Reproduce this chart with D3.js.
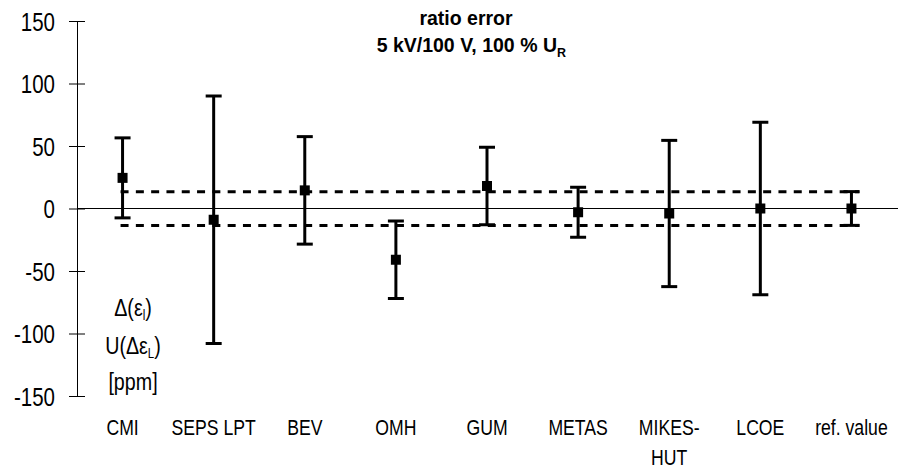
<!DOCTYPE html>
<html lang="en">
<head>
  <meta charset="UTF-8">
  <title>ratio error 5 kV/100 V</title>
  <script src="https://d3js.org/d3.v7.min.js"></script>
  <style>
    body {
      margin: 0;
      background: #fff;
    }
    svg text {
      font-family: 'Liberation Sans', Arial, sans-serif;
      fill: #000;
    }
    .title text {
      font-weight: bold;
      font-size: 19.5px;
    }
    .y-axis text {
      font-size: 25px;
    }
    .x-label {
      font-size: 21.5px;
    }
    .y-title {
      font-size: 24px;
    }
  </style>
</head>
<body>
  <svg width="898" height="468"></svg>

  <script>
    // data (ppm)
    let categories = ['CMI', 'SEPS LPT', 'BEV', 'OMH', 'GUM', 'METAS', 'MIKES-HUT', 'LCOE', 'ref. value'];
    let tickLabels = [['CMI'], ['SEPS LPT'], ['BEV'], ['OMH'], ['GUM'], ['METAS'], ['MIKES-', 'HUT'], ['LCOE'], ['ref. value']];
    let deviations = [24.5, -9, 14.5, -41, 18, -3, -4, 0, 0];
    let uncertainties = [32, 99, 43, 31, 31, 20, 58.5, 69, 13.5];
    let refUncertainty = 13.5;
    let yTicks = [150, 100, 50, 0, -50, -100, -150];

    let width = 898, height = 468;
    let narrow = 0.82; // no narrow font installed, squeeze the labels instead
    let svg = d3.select('svg');

    let x = d3.scaleBand()
      .domain(categories)
      .range([77, 897])
      .padding(0);

    let y = d3.scaleLinear()
      .domain([-150, 150])
      .range([396, 21]);

    let cx = c => x(c) + x.bandwidth() / 2;

    let rows = categories.map((c, i) => ({
      cat: c,
      value: deviations[i],
      u: uncertainties[i]
    }));

    // y axis with ticks crossing the line
    let yAxis = svg.append('g')
      .attr('class', 'y-axis')
      .attr('transform', 'translate(77,0)')
      .call(d3.axisLeft(y).tickValues(yTicks).tickFormat(d => String(d)).tickSize(8).tickSizeOuter(0));
    yAxis.select('.domain').attr('stroke', '#000').attr('stroke-width', 1);
    yAxis.selectAll('.tick line')
      .attr('x1', -8).attr('x2', 8)
      .attr('stroke', '#000');
    yAxis.selectAll('.tick text')
      .attr('x', -22 / narrow)
      .attr('dy', '0.36em')
      .attr('transform', `scale(${narrow},1)`);

    // zero line
    svg.append('line')
      .attr('x1', 77).attr('x2', width)
      .attr('y1', y(0)).attr('y2', y(0))
      .attr('stroke', '#000')
      .attr('stroke-width', 1);

    // reference band (dashed)
    [refUncertainty, -refUncertainty].forEach(v => {
      svg.append('line')
        .attr('x1', cx(categories[0]) - 2)
        .attr('x2', cx(categories[categories.length - 1]) + 8)
        .attr('y1', y(v)).attr('y2', y(v))
        .attr('stroke', '#000')
        .attr('stroke-width', 3)
        .attr('stroke-dasharray', '8,7.3');
    });

    // error bars
    let bars = svg.append('g').selectAll('g')
      .data(rows)
      .enter().append('g');

    bars.append('line')
      .attr('x1', d => cx(d.cat)).attr('x2', d => cx(d.cat))
      .attr('y1', d => y(d.value + d.u))
      .attr('y2', d => y(d.value - d.u))
      .attr('stroke', '#000')
      .attr('stroke-width', 3);

    [1, -1].forEach(s => {
      bars.append('line')
        .attr('x1', d => cx(d.cat) - 8).attr('x2', d => cx(d.cat) + 8)
        .attr('y1', d => y(d.value + s * d.u))
        .attr('y2', d => y(d.value + s * d.u))
        .attr('stroke', '#000')
        .attr('stroke-width', 3);
    });

    bars.append('rect')
      .attr('x', d => cx(d.cat) - 5)
      .attr('y', d => y(d.value) - 5)
      .attr('width', 10)
      .attr('height', 10)
      .attr('fill', '#000');

    // category labels
    let labels = svg.append('g').selectAll('g')
      .data(categories)
      .enter().append('g')
      .attr('transform', d => `translate(${cx(d)},435) scale(${narrow},1)`)
      .append('text')
      .attr('class', 'x-label')
      .attr('text-anchor', 'middle');
    labels.selectAll('tspan')
      .data((d, i) => tickLabels[i])
      .enter().append('tspan')
      .attr('x', 0)
      .attr('dy', (d, i) => i === 0 ? 0 : 30)
      .text(d => d);

    // title
    let title = svg.append('g').attr('class', 'title');
    title.append('text')
      .attr('x', 466).attr('y', 25)
      .attr('text-anchor', 'middle')
      .text('ratio error');
    let t2 = title.append('text')
      .attr('x', 566).attr('y', 52)
      .attr('text-anchor', 'end');
    t2.append('tspan').text('5 kV/100 V, 100 % U');
    t2.append('tspan').attr('font-size', '12.5px').attr('dy', 5).text('R');

    // y axis title
    let yt = svg.append('g')
      .attr('class', 'y-title')
      .attr('transform', `translate(133,0) scale(${narrow},1)`);
    let l1 = yt.append('text').attr('x', 0).attr('y', 316).attr('text-anchor', 'middle');
    l1.append('tspan').text('\u0394(\u03b5');
    l1.append('tspan').attr('font-size', '14px').attr('dy', 4).text('l');
    l1.append('tspan').attr('dy', -4).text(')');
    let l2 = yt.append('text').attr('x', 0).attr('y', 354).attr('text-anchor', 'middle');
    l2.append('tspan').text('U(\u0394\u03b5');
    l2.append('tspan').attr('font-size', '14px').attr('dy', 4).text('L');
    l2.append('tspan').attr('dy', -4).text(')');
    yt.append('text').attr('x', 0).attr('y', 390).attr('text-anchor', 'middle').text('[ppm]');
  </script>
</body>
</html>
